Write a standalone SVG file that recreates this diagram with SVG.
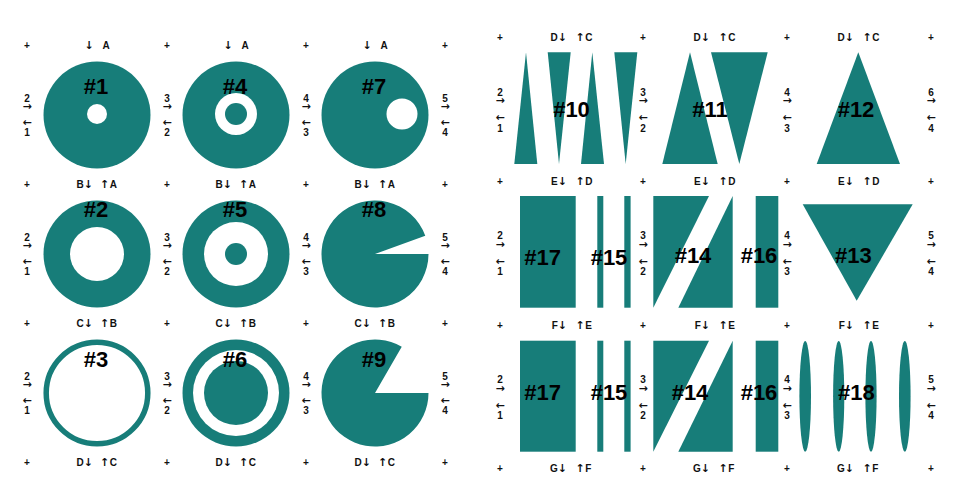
<svg xmlns="http://www.w3.org/2000/svg" width="966" height="493" viewBox="0 0 966 493">
<style>
.t{fill:#177d79}
.w{fill:#fff}
.n{font-family:"Liberation Sans","DejaVu Sans",sans-serif;font-size:22px;font-weight:bold;text-anchor:middle;fill:#000}
.s{font-family:"Liberation Sans","DejaVu Sans",sans-serif;font-size:10px;font-weight:bold;fill:#111;text-anchor:middle}
.a{font-family:"DejaVu Sans",sans-serif;font-size:11px;font-weight:bold}
.e{text-anchor:end}
.b{text-anchor:start}
</style>
<rect width="966" height="493" fill="#fff"/>

<!-- Left grid nodes -->
<g id="n1"><circle class="t" cx="97" cy="115" r="53.5"/><circle class="w" cx="97" cy="114" r="10"/><text class="n" x="96" y="94">#1</text></g>
<g id="n2"><circle class="t" cx="97" cy="254" r="53.5"/><circle class="w" cx="97" cy="254" r="27"/><text class="n" x="96" y="217">#2</text></g>
<g id="n3"><circle cx="97" cy="393" r="50.8" fill="none" stroke="#177d79" stroke-width="5.5"/><text class="n" x="96" y="367">#3</text></g>
<g id="n4"><circle class="t" cx="236" cy="115" r="53.5"/><circle class="w" cx="236" cy="114" r="21"/><circle class="t" cx="236" cy="114" r="11"/><text class="n" x="235" y="94">#4</text></g>
<g id="n5"><circle class="t" cx="236" cy="254" r="53.5"/><circle class="w" cx="236" cy="254" r="32"/><circle class="t" cx="236" cy="254" r="11"/><text class="n" x="235" y="217">#5</text></g>
<g id="n6"><circle class="t" cx="236" cy="393" r="53.5"/><circle class="w" cx="236" cy="393" r="43"/><circle class="t" cx="236" cy="393" r="32"/><text class="n" x="235" y="367">#6</text></g>
<g id="n7"><circle class="t" cx="375" cy="115" r="53.5"/><circle class="w" cx="402" cy="114" r="15.5"/><text class="n" x="374" y="94">#7</text></g>
<g id="n8"><path class="t" d="M375,254 L428.5,254 A53.5,53.5 0 1 1 425.27,235.7 Z"/><text class="n" x="374" y="217">#8</text></g>
<g id="n9"><path class="t" d="M375,393 L428.5,393 A53.5,53.5 0 1 1 401.75,346.67 Z"/><text class="n" x="374" y="367">#9</text></g>

<!-- Right grid nodes -->
<g id="n10">
<polygon class="t" points="526,52.3 537.3,164 514.3,164"/>
<polygon class="t" points="547.7,52.3 570.7,52.3 559,164"/>
<polygon class="t" points="592.3,52.3 604,164 581,164"/>
<polygon class="t" points="614.3,52.3 637.3,52.3 625.7,164"/>
<text class="n" x="571.5" y="117">#10</text></g>
<g id="n11">
<polygon class="t" points="690,52.3 717.7,164 662.3,164"/>
<polygon class="t" points="711,52.3 767.7,52.3 739.3,164"/>
<text class="n" x="710" y="117">#11</text></g>
<g id="n12"><polygon class="t" points="858.3,52.3 900,164 816.7,164"/><text class="n" x="856" y="117">#12</text></g>

<g id="n17a"><rect class="t" x="520" y="196" width="55.7" height="111.7"/><text class="n" x="542.7" y="265">#17</text></g>
<g id="n15a"><rect class="t" x="597.3" y="196" width="6" height="111.7"/><rect class="t" x="624.3" y="196" width="6.3" height="111.7"/><text class="n" x="609" y="265">#15</text></g>
<g id="n14a"><polygon class="t" points="653.3,196 709,196 653.3,307.7"/><polygon class="t" points="732.7,196 732.7,307.7 678.3,307.7"/><text class="n" x="693" y="263">#14</text></g>
<g id="n16a"><rect class="t" x="755.7" y="196" width="22.6" height="111.7"/><text class="n" x="759" y="263">#16</text></g>
<g id="n13"><polygon class="t" points="802.7,204.3 912.7,204.3 856.7,300.7"/><text class="n" x="853.3" y="263">#13</text></g>

<g id="n17b"><rect class="t" x="520" y="340.7" width="55.7" height="111"/><text class="n" x="542.7" y="399.5">#17</text></g>
<g id="n15b"><rect class="t" x="597.3" y="340.7" width="6" height="111"/><rect class="t" x="624.3" y="340.7" width="6.3" height="111"/><text class="n" x="609" y="399.5">#15</text></g>
<g id="n14b"><polygon class="t" points="653.3,340.7 709,340.7 653.3,451.7"/><polygon class="t" points="732.7,340.7 732.7,451.7 678.3,451.7"/><text class="n" x="690" y="399.5">#14</text></g>
<g id="n16b"><rect class="t" x="755.7" y="340.7" width="22.6" height="111"/><text class="n" x="759" y="399.5">#16</text></g>
<g id="n18">
<ellipse class="t" cx="805.2" cy="396.3" rx="5.8" ry="55.3"/>
<ellipse class="t" cx="838.7" cy="396.3" rx="5.6" ry="55.3"/>
<ellipse class="t" cx="871" cy="396.3" rx="5.6" ry="55.3"/>
<ellipse class="t" cx="904.8" cy="396.3" rx="5.8" ry="55.3"/>
<text class="n" x="856.3" y="400">#18</text></g>

<!-- Left grid labels -->
<g id="labels-left" class="s">
<text x="27" y="48.5">+</text><text x="167" y="48.5">+</text><text x="306" y="48.5">+</text><text x="445" y="48.5">+</text>
<text x="27" y="187.5">+</text><text x="167" y="187.5">+</text><text x="306" y="187.5">+</text><text x="445" y="187.5">+</text>
<text x="27" y="326.5">+</text><text x="167" y="326.5">+</text><text x="306" y="326.5">+</text><text x="445" y="326.5">+</text>
<text x="27" y="465.5">+</text><text x="167" y="465.5">+</text><text x="306" y="465.5">+</text><text x="445" y="465.5">+</text>

<text x="89" y="49"><tspan class="a">↓</tspan></text><text x="106" y="48.5">A</text>
<text x="228" y="49"><tspan class="a">↓</tspan></text><text x="245" y="48.5">A</text>
<text x="367" y="49"><tspan class="a">↓</tspan></text><text x="384" y="48.5">A</text>

<text class="e" x="93" y="187.5">B<tspan class="a">↓</tspan></text><text class="b" x="100" y="187.5"><tspan class="a">↑</tspan><tspan dx="0.5">A</tspan></text>
<text class="e" x="232" y="187.5">B<tspan class="a">↓</tspan></text><text class="b" x="239" y="187.5"><tspan class="a">↑</tspan><tspan dx="0.5">A</tspan></text>
<text class="e" x="371" y="187.5">B<tspan class="a">↓</tspan></text><text class="b" x="378" y="187.5"><tspan class="a">↑</tspan><tspan dx="0.5">A</tspan></text>

<text class="e" x="93" y="326.5">C<tspan class="a">↓</tspan></text><text class="b" x="100" y="326.5"><tspan class="a">↑</tspan><tspan dx="0.5">B</tspan></text>
<text class="e" x="232" y="326.5">C<tspan class="a">↓</tspan></text><text class="b" x="239" y="326.5"><tspan class="a">↑</tspan><tspan dx="0.5">B</tspan></text>
<text class="e" x="371" y="326.5">C<tspan class="a">↓</tspan></text><text class="b" x="378" y="326.5"><tspan class="a">↑</tspan><tspan dx="0.5">B</tspan></text>

<text class="e" x="93" y="465.5">D<tspan class="a">↓</tspan></text><text class="b" x="100" y="465.5"><tspan class="a">↑</tspan><tspan dx="0.5">C</tspan></text>
<text class="e" x="232" y="465.5">D<tspan class="a">↓</tspan></text><text class="b" x="239" y="465.5"><tspan class="a">↑</tspan><tspan dx="0.5">C</tspan></text>
<text class="e" x="371" y="465.5">D<tspan class="a">↓</tspan></text><text class="b" x="378" y="465.5"><tspan class="a">↑</tspan><tspan dx="0.5">C</tspan></text>

<text><tspan x="27" y="102">2</tspan><tspan class="a" x="27" y="109.5">→</tspan><tspan class="a" x="27" y="125.5">←</tspan><tspan x="27" y="136">1</tspan></text>
<text><tspan x="167" y="102">3</tspan><tspan class="a" x="167" y="109.5">→</tspan><tspan class="a" x="167" y="125.5">←</tspan><tspan x="167" y="136">2</tspan></text>
<text><tspan x="306" y="102">4</tspan><tspan class="a" x="306" y="109.5">→</tspan><tspan class="a" x="306" y="125.5">←</tspan><tspan x="306" y="136">3</tspan></text>
<text><tspan x="445" y="102">5</tspan><tspan class="a" x="445" y="109.5">→</tspan><tspan class="a" x="445" y="125.5">←</tspan><tspan x="445" y="136">4</tspan></text>

<text><tspan x="27" y="241">2</tspan><tspan class="a" x="27" y="248.5">→</tspan><tspan class="a" x="27" y="264.5">←</tspan><tspan x="27" y="275">1</tspan></text>
<text><tspan x="167" y="241">3</tspan><tspan class="a" x="167" y="248.5">→</tspan><tspan class="a" x="167" y="264.5">←</tspan><tspan x="167" y="275">2</tspan></text>
<text><tspan x="306" y="241">4</tspan><tspan class="a" x="306" y="248.5">→</tspan><tspan class="a" x="306" y="264.5">←</tspan><tspan x="306" y="275">3</tspan></text>
<text><tspan x="445" y="241">5</tspan><tspan class="a" x="445" y="248.5">→</tspan><tspan class="a" x="445" y="264.5">←</tspan><tspan x="445" y="275">4</tspan></text>

<text><tspan x="27" y="380">2</tspan><tspan class="a" x="27" y="387.5">→</tspan><tspan class="a" x="27" y="403.5">←</tspan><tspan x="27" y="414">1</tspan></text>
<text><tspan x="167" y="380">3</tspan><tspan class="a" x="167" y="387.5">→</tspan><tspan class="a" x="167" y="403.5">←</tspan><tspan x="167" y="414">2</tspan></text>
<text><tspan x="306" y="380">4</tspan><tspan class="a" x="306" y="387.5">→</tspan><tspan class="a" x="306" y="403.5">←</tspan><tspan x="306" y="414">3</tspan></text>
<text><tspan x="445" y="380">5</tspan><tspan class="a" x="445" y="387.5">→</tspan><tspan class="a" x="445" y="403.5">←</tspan><tspan x="445" y="414">4</tspan></text>
</g>

<!-- Right grid labels -->
<g id="labels-right" class="s">
<text x="500" y="40.5">+</text><text x="643" y="40.5">+</text><text x="787" y="40.5">+</text><text x="931" y="40.5">+</text>
<text x="500" y="184.5">+</text><text x="643" y="184.5">+</text><text x="787" y="184.5">+</text><text x="931" y="184.5">+</text>
<text x="500" y="328.5">+</text><text x="643" y="328.5">+</text><text x="787" y="328.5">+</text><text x="931" y="328.5">+</text>
<text x="500" y="471.5">+</text><text x="643" y="471.5">+</text><text x="787" y="471.5">+</text><text x="931" y="471.5">+</text>

<text class="e" x="567" y="40.5">D<tspan class="a">↓</tspan></text><text class="b" x="575.5" y="40.5"><tspan class="a">↑</tspan><tspan dx="0.5">C</tspan></text>
<text class="e" x="710" y="40.5">D<tspan class="a">↓</tspan></text><text class="b" x="718.5" y="40.5"><tspan class="a">↑</tspan><tspan dx="0.5">C</tspan></text>
<text class="e" x="854" y="40.5">D<tspan class="a">↓</tspan></text><text class="b" x="862.5" y="40.5"><tspan class="a">↑</tspan><tspan dx="0.5">C</tspan></text>

<text class="e" x="567" y="184.5">E<tspan class="a">↓</tspan></text><text class="b" x="575.5" y="184.5"><tspan class="a">↑</tspan><tspan dx="0.5">D</tspan></text>
<text class="e" x="710" y="184.5">E<tspan class="a">↓</tspan></text><text class="b" x="718.5" y="184.5"><tspan class="a">↑</tspan><tspan dx="0.5">D</tspan></text>
<text class="e" x="854" y="184.5">E<tspan class="a">↓</tspan></text><text class="b" x="862.5" y="184.5"><tspan class="a">↑</tspan><tspan dx="0.5">D</tspan></text>

<text class="e" x="567" y="328.5">F<tspan class="a">↓</tspan></text><text class="b" x="575.5" y="328.5"><tspan class="a">↑</tspan><tspan dx="0.5">E</tspan></text>
<text class="e" x="710" y="328.5">F<tspan class="a">↓</tspan></text><text class="b" x="718.5" y="328.5"><tspan class="a">↑</tspan><tspan dx="0.5">E</tspan></text>
<text class="e" x="854" y="328.5">F<tspan class="a">↓</tspan></text><text class="b" x="862.5" y="328.5"><tspan class="a">↑</tspan><tspan dx="0.5">E</tspan></text>

<text class="e" x="567" y="471.5">G<tspan class="a">↓</tspan></text><text class="b" x="575.5" y="471.5"><tspan class="a">↑</tspan><tspan dx="0.5">F</tspan></text>
<text class="e" x="710" y="471.5">G<tspan class="a">↓</tspan></text><text class="b" x="718.5" y="471.5"><tspan class="a">↑</tspan><tspan dx="0.5">F</tspan></text>
<text class="e" x="854" y="471.5">G<tspan class="a">↓</tspan></text><text class="b" x="862.5" y="471.5"><tspan class="a">↑</tspan><tspan dx="0.5">F</tspan></text>

<text><tspan x="500" y="96">2</tspan><tspan class="a" x="500" y="104">→</tspan><tspan class="a" x="500" y="120.5">←</tspan><tspan x="500" y="132">1</tspan></text>
<text><tspan x="643" y="96">3</tspan><tspan class="a" x="643" y="104">→</tspan><tspan class="a" x="643" y="120.5">←</tspan><tspan x="643" y="132">2</tspan></text>
<text><tspan x="787" y="96">4</tspan><tspan class="a" x="787" y="104">→</tspan><tspan class="a" x="787" y="120.5">←</tspan><tspan x="787" y="132">3</tspan></text>
<text><tspan x="931" y="96">6</tspan><tspan class="a" x="931" y="104">→</tspan><tspan class="a" x="931" y="120.5">←</tspan><tspan x="931" y="132">4</tspan></text>

<text><tspan x="500" y="239">2</tspan><tspan class="a" x="500" y="247.5">→</tspan><tspan class="a" x="500" y="264.5">←</tspan><tspan x="500" y="275">1</tspan></text>
<text><tspan x="643" y="239">3</tspan><tspan class="a" x="643" y="247.5">→</tspan><tspan class="a" x="643" y="264.5">←</tspan><tspan x="643" y="275">2</tspan></text>
<text><tspan x="787" y="239">4</tspan><tspan class="a" x="787" y="247.5">→</tspan><tspan class="a" x="787" y="264.5">←</tspan><tspan x="787" y="275">3</tspan></text>
<text><tspan x="931" y="239">5</tspan><tspan class="a" x="931" y="247.5">→</tspan><tspan class="a" x="931" y="264.5">←</tspan><tspan x="931" y="275">4</tspan></text>

<text><tspan x="500" y="383">2</tspan><tspan class="a" x="500" y="391.5">→</tspan><tspan class="a" x="500" y="408.5">←</tspan><tspan x="500" y="419">1</tspan></text>
<text><tspan x="643" y="383">3</tspan><tspan class="a" x="643" y="391.5">→</tspan><tspan class="a" x="643" y="408.5">←</tspan><tspan x="643" y="419">2</tspan></text>
<text><tspan x="787" y="383">4</tspan><tspan class="a" x="787" y="391.5">→</tspan><tspan class="a" x="787" y="408.5">←</tspan><tspan x="787" y="419">3</tspan></text>
<text><tspan x="931" y="383">5</tspan><tspan class="a" x="931" y="391.5">→</tspan><tspan class="a" x="931" y="408.5">←</tspan><tspan x="931" y="419">4</tspan></text>
</g>
</svg>
